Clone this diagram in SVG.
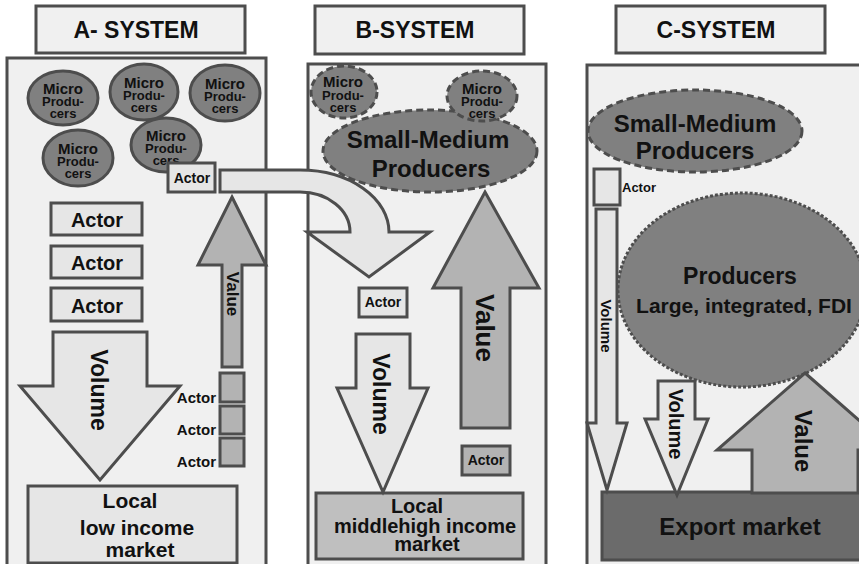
<svg xmlns="http://www.w3.org/2000/svg" width="859" height="564" viewBox="0 0 859 564">
<style>
text{font-family:"Liberation Sans",Arial,sans-serif;font-weight:bold;fill:#111;text-anchor:middle}
.panel,.hdr{fill:#f0f0f0;stroke:#4d4d4d;stroke-width:3}
.micro{fill:#808080;stroke:#4d4d4d;stroke-width:3}
.dash{stroke-dasharray:7 4}
.dot{stroke-dasharray:3 2}
.box{fill:#e6e6e6;stroke:#4d4d4d;stroke-width:3}
.box2{fill:#b3b3b3;stroke:#4d4d4d;stroke-width:3}
.mid{fill:#bfbfbf;stroke:#4d4d4d;stroke-width:3}
.exp{fill:#6b6b6b;stroke:#4d4d4d;stroke-width:3}
.vol{fill:#e6e6e6;stroke:#4d4d4d;stroke-width:3}
.val{fill:#b3b3b3;stroke:#4d4d4d;stroke-width:3}
.m1{font-size:15px}
.m2{font-size:13px}
.vt{dominant-baseline:central}
.end{text-anchor:end}
.start{text-anchor:start}
</style>

<!-- system panels -->
<g id="panels">
  <rect class="panel" x="7" y="58" width="259" height="520"/>
  <rect class="panel" x="308" y="64" width="238" height="520"/>
  <rect class="panel" x="587" y="65" width="300" height="520"/>
</g>

<!-- headers -->
<g id="hdr-a"><rect class="hdr" x="36" y="6" width="209" height="47"/><text x="136" y="38" font-size="23">A- SYSTEM</text></g>
<g id="hdr-b"><rect class="hdr" x="315" y="6" width="209" height="48"/><text x="415" y="38" font-size="23">B-SYSTEM</text></g>
<g id="hdr-c"><rect class="hdr" x="616" y="6" width="209" height="47"/><text x="716" y="38" font-size="23">C-SYSTEM</text></g>

<!-- A-system micro producers -->
<g id="a-micro1"><ellipse class="micro" cx="63" cy="98" rx="35" ry="27"/><text class="m1" x="63" y="94">Micro</text><text class="m2" x="63" y="106">Produ-</text><text class="m2" x="63" y="118">cers</text></g>
<g id="a-micro2"><ellipse class="micro" cx="144" cy="92" rx="34" ry="28"/><text class="m1" x="144" y="88">Micro</text><text class="m2" x="144" y="100">Produ-</text><text class="m2" x="144" y="112">cers</text></g>
<g id="a-micro3"><ellipse class="micro" cx="225" cy="93" rx="35" ry="28"/><text class="m1" x="225" y="89">Micro</text><text class="m2" x="225" y="101">Produ-</text><text class="m2" x="225" y="113">cers</text></g>
<g id="a-micro4"><ellipse class="micro" cx="78" cy="158" rx="35" ry="28"/><text class="m1" x="78" y="154">Micro</text><text class="m2" x="78" y="166">Produ-</text><text class="m2" x="78" y="178">cers</text></g>
<g id="a-micro5"><ellipse class="micro" cx="166" cy="145" rx="35" ry="27"/><text class="m1" x="166" y="141">Micro</text><text class="m2" x="166" y="153">Produ-</text><text class="m2" x="166" y="165">cers</text></g>

<!-- A-system actors -->
<g id="a-actor-top"><rect class="box" x="168" y="163" width="47" height="29"/><text x="192" y="183" font-size="14">Actor</text></g>
<g id="a-actor1"><rect class="box" x="51" y="203" width="91" height="32"/><text x="97" y="227" font-size="20">Actor</text></g>
<g id="a-actor2"><rect class="box" x="51" y="246" width="91" height="32"/><text x="97" y="270" font-size="20">Actor</text></g>
<g id="a-actor3"><rect class="box" x="51" y="288" width="91" height="33"/><text x="97" y="313" font-size="20">Actor</text></g>
<g id="a-actor4"><rect class="box2" x="220" y="373" width="24" height="29"/><text class="end" x="216" y="403" font-size="15">Actor</text></g>
<g id="a-actor5"><rect class="box2" x="220" y="406" width="24" height="28"/><text class="end" x="216" y="435" font-size="15">Actor</text></g>
<g id="a-actor6"><rect class="box2" x="220" y="438" width="24" height="28"/><text class="end" x="216" y="467" font-size="15">Actor</text></g>

<!-- A-system market -->
<g id="a-market"><rect class="box" x="28" y="486" width="209" height="77"/>
  <text x="130" y="508" font-size="21">Local</text>
  <text x="137" y="535" font-size="21">low income</text>
  <text x="140" y="557" font-size="21">market</text></g>

<!-- B-system producers -->
<g id="b-micro1"><ellipse class="micro dash" cx="344" cy="92" rx="33" ry="26"/><text class="m1" x="343" y="87">Micro</text><text class="m2" x="343" y="100">Produ-</text><text class="m2" x="343" y="112">cers</text></g>
<g id="b-smp"><ellipse class="micro dash" cx="430" cy="151" rx="107" ry="41"/><text x="428" y="148" font-size="24">Small-Medium</text><text x="431" y="177" font-size="24">Producers</text></g>
<g id="b-micro2"><ellipse class="micro dash" cx="482" cy="96" rx="35" ry="25"/><text class="m1" x="482" y="94">Micro</text><text class="m2" x="482" y="106">Produ-</text><text class="m2" x="482" y="118">cers</text></g>

<g id="b-actor1"><rect class="box" x="359" y="288" width="48" height="29"/><text x="383" y="307" font-size="14">Actor</text></g>
<g id="b-actor2"><rect class="box2" x="462" y="446" width="48" height="29"/><text x="486" y="465" font-size="14">Actor</text></g>

<g id="b-market"><rect class="mid" x="316" y="493" width="207" height="66"/>
  <text x="417" y="513" font-size="20">Local</text>
  <text x="425" y="533" font-size="20">middlehigh income</text>
  <text x="427" y="551" font-size="20">market</text></g>

<!-- C-system producers -->
<g id="c-smp"><ellipse class="micro dash" cx="695" cy="131" rx="107" ry="41"/><text x="695" y="132" font-size="24">Small-Medium</text><text x="695" y="159" font-size="24">Producers</text></g>
<g id="c-actor"><rect class="box" x="594" y="169" width="26" height="36"/><text class="start" x="622" y="192" font-size="13">Actor</text></g>
<g id="c-large"><ellipse class="micro dot" cx="742" cy="290" rx="124" ry="97"/><text x="740" y="284" font-size="23">Producers</text><text x="744" y="313" font-size="21">Large, integrated, FDI</text></g>
<g id="c-market"><rect class="exp" x="602" y="492" width="280" height="68"/><text x="740" y="535" font-size="24">Export market</text></g>

<!-- flow arrows -->
<g id="connectors">
  <path class="vol" d="M220,170 H300 A89,62 0 0 1 389,232 H430 L369,277 L307,232 H350 A50,40 0 0 0 300,192 H220 Z"/>

  <path class="val" d="M232,197 L266,265 H242 V367 H222 V265 H198 Z"/>
  <text class="vt" transform="translate(232,294) rotate(90)" font-size="17">Value</text>

  <path class="vol" d="M53,332 H147 V386 H180 L100,480 L20,386 H53 Z"/>
  <text class="vt" transform="translate(99,390) rotate(90)" font-size="23">Volume</text>

  <path class="vol" d="M356,334 H410 V388 H428 L383,492 L337,388 H356 Z"/>
  <text class="vt" transform="translate(381,394) rotate(90)" font-size="23">Volume</text>

  <path class="val" d="M485,192 L539,288 H510 V428 H461 V288 H433 Z"/>
  <text class="vt" transform="translate(485,328) rotate(90)" font-size="26">Value</text>

  <path class="vol" d="M596,209 H617 V423 H627 L607,490 L587,423 H596 Z"/>
  <text class="vt" transform="translate(606,326) rotate(90)" font-size="15">Volume</text>

  <path class="vol" d="M658,381 H695 V419 H708 L677,495 L645,419 H658 Z"/>
  <text class="vt" transform="translate(676,424) rotate(90)" font-size="20">Volume</text>

  <path class="val" d="M805,373 L893,450 H858 V493 H752 V450 H717 Z"/>
  <text class="vt" transform="translate(803,441) rotate(90)" font-size="24">Value</text>
</g>
</svg>
